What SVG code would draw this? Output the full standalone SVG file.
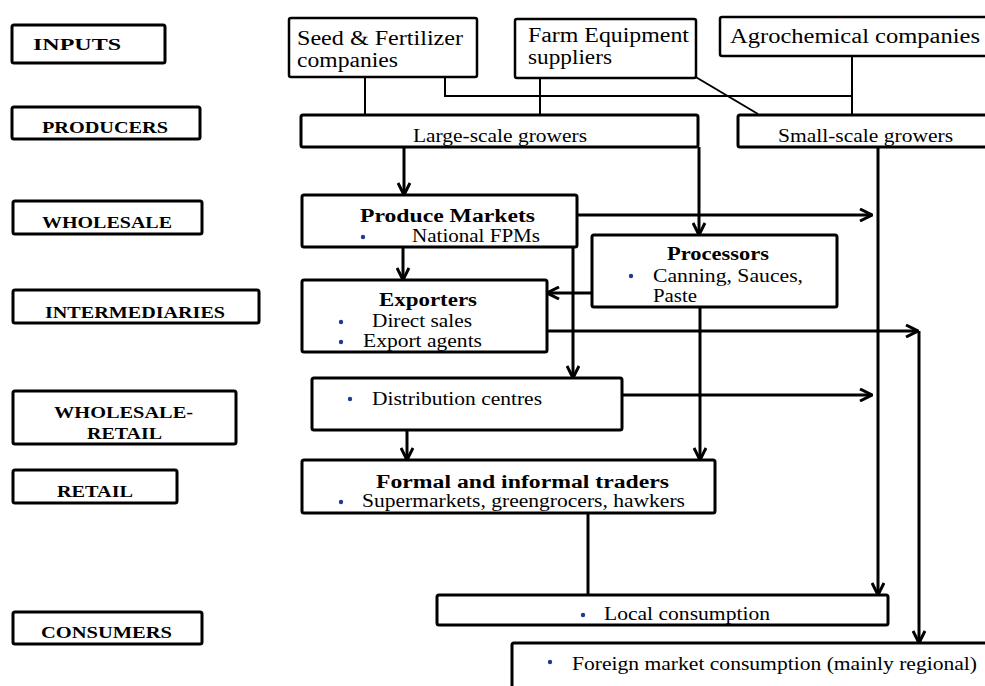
<svg xmlns="http://www.w3.org/2000/svg" width="985" height="686" viewBox="0 0 985 686">
<defs>
<style>
.box{fill:#fff;stroke:#000;stroke-width:3}
.lbl{font-family:"Liberation Serif","Times New Roman",serif;font-weight:bold;font-size:17px;fill:#000}
.t{font-family:"Liberation Serif","Times New Roman",serif;font-size:18px;fill:#000}
.tb{font-family:"Liberation Serif","Times New Roman",serif;font-weight:bold;font-size:18px;fill:#000}
.top{font-family:"Liberation Serif","Times New Roman",serif;font-size:20px;fill:#000}
.dot{fill:#1f3a93}
.thin{fill:none;stroke:#000;stroke-width:2}
.con{fill:none;stroke:#000;stroke-width:3}
.arr{fill:none;stroke:#000;stroke-width:3;marker-end:url(#ah)}
</style>
<marker id="ah" viewBox="0 0 14 14" refX="13" refY="7" markerWidth="14" markerHeight="14" markerUnits="userSpaceOnUse" orient="auto">
<path d="M1,1 L13,7 L1,13" fill="none" stroke="#000" stroke-width="3"/>
</marker>
</defs>
<rect width="985" height="686" fill="#fff"/>

<g id="connectors">
<path class="thin" d="M365,77 V115"/>
<path class="thin" d="M445,77 V96 H852"/>
<path class="thin" d="M540,78 V115"/>
<path class="thin" d="M852,56 V115"/>
<path class="thin" d="M694,76 L758,114"/>
<path class="arr" d="M404,147 V195"/>
<path class="arr" d="M699,147 V235"/>
<path class="arr" d="M403,247 V280"/>
<path class="arr" d="M577,215 H872"/>
<path class="arr" d="M573,247 V378"/>
<path class="arr" d="M592,293 H547"/>
<path class="arr" d="M547,331 H918"/>
<path class="arr" d="M919,331 V643"/>
<path class="arr" d="M622,395 H872"/>
<path class="arr" d="M407,430 V460"/>
<path class="arr" d="M700,307 V460"/>
<path class="arr" d="M878,147 V595"/>
<path class="con" d="M588,513 V595"/>
</g>

<g id="inputs"><rect class="box" x="12" y="25" width="153" height="38" rx="2"/><text class="lbl" x="33" y="50" font-size="20" textLength="88" lengthAdjust="spacingAndGlyphs">INPUTS</text></g>
<g id="producers"><rect class="box" x="12" y="107" width="188" height="32" rx="2"/><text class="lbl" x="42" y="133" textLength="126" lengthAdjust="spacingAndGlyphs">PRODUCERS</text></g>
<g id="wholesale"><rect class="box" x="13" y="201" width="189" height="33" rx="2"/><text class="lbl" x="42" y="228" textLength="130" lengthAdjust="spacingAndGlyphs">WHOLESALE</text></g>
<g id="intermediaries"><rect class="box" x="13" y="290" width="246" height="33" rx="2"/><text class="lbl" x="45" y="318" textLength="180" lengthAdjust="spacingAndGlyphs">INTERMEDIARIES</text></g>
<g id="wholesale-retail"><rect class="box" x="13" y="391" width="223" height="53" rx="2"/><text class="lbl" x="54" y="418" textLength="139" lengthAdjust="spacingAndGlyphs">WHOLESALE-</text><text class="lbl" x="87" y="439" textLength="75" lengthAdjust="spacingAndGlyphs">RETAIL</text></g>
<g id="retail"><rect class="box" x="13" y="470" width="164" height="33" rx="2"/><text class="lbl" x="57" y="497" textLength="76" lengthAdjust="spacingAndGlyphs">RETAIL</text></g>
<g id="consumers"><rect class="box" x="13" y="612" width="189" height="32" rx="2"/><text class="lbl" x="41" y="638" textLength="131" lengthAdjust="spacingAndGlyphs">CONSUMERS</text></g>

<g id="seed"><rect class="box" x="289" y="18" width="188" height="59" rx="2" style="stroke-width:2.5"/><text class="top" x="297" y="45" textLength="166" lengthAdjust="spacingAndGlyphs">Seed &amp; Fertilizer</text><text class="top" x="297" y="67" textLength="101" lengthAdjust="spacingAndGlyphs">companies</text></g>
<g id="farm"><rect class="box" x="515" y="19" width="181" height="59" rx="2" style="stroke-width:2.5"/><text class="top" x="528" y="42" font-size="18.5" textLength="161" lengthAdjust="spacingAndGlyphs">Farm Equipment</text><text class="top" x="528" y="64" font-size="18.5" textLength="84" lengthAdjust="spacingAndGlyphs">suppliers</text></g>
<g id="agro"><rect class="box" x="720" y="17" width="270" height="39" rx="2" style="stroke-width:2.5"/><text class="top" x="730" y="43" textLength="250" lengthAdjust="spacingAndGlyphs">Agrochemical companies</text></g>

<g id="large"><rect class="box" x="301" y="115" width="397" height="32" rx="2"/><text class="t" x="413" y="142" font-size="16" textLength="174" lengthAdjust="spacingAndGlyphs">Large-scale growers</text></g>
<g id="small"><rect class="box" x="738" y="115" width="252" height="32" rx="2"/><text class="t" x="778" y="142" font-size="16" textLength="175" lengthAdjust="spacingAndGlyphs">Small-scale growers</text></g>

<g id="produce"><rect class="box" x="302" y="195" width="275" height="52" rx="2"/><text class="tb" x="360" y="222" textLength="175" lengthAdjust="spacingAndGlyphs">Produce Markets</text><circle class="dot" cx="363" cy="237" r="2.2"/><text class="t" x="412" y="242" textLength="128" lengthAdjust="spacingAndGlyphs">National FPMs</text></g>
<g id="processors"><rect class="box" x="592" y="235" width="245" height="72" rx="2"/><text class="tb" x="667" y="260" textLength="102" lengthAdjust="spacingAndGlyphs">Processors</text><circle class="dot" cx="631" cy="276" r="2.2"/><text class="t" x="653" y="282" textLength="150" lengthAdjust="spacingAndGlyphs">Canning, Sauces,</text><text class="t" x="653" y="302" textLength="44" lengthAdjust="spacingAndGlyphs">Paste</text></g>
<g id="exporters"><rect class="box" x="302" y="280" width="245" height="72" rx="2"/><text class="tb" x="379" y="306" textLength="98" lengthAdjust="spacingAndGlyphs">Exporters</text><circle class="dot" cx="341" cy="322" r="2.2"/><text class="t" x="372" y="327" textLength="100" lengthAdjust="spacingAndGlyphs">Direct sales</text><circle class="dot" cx="341" cy="342" r="2.2"/><text class="t" x="363" y="347" textLength="119" lengthAdjust="spacingAndGlyphs">Export agents</text></g>
<g id="distribution"><rect class="box" x="312" y="378" width="310" height="52" rx="2"/><circle class="dot" cx="350" cy="399" r="2.2"/><text class="t" x="372" y="405" textLength="170" lengthAdjust="spacingAndGlyphs">Distribution centres</text></g>
<g id="traders"><rect class="box" x="302" y="460" width="413" height="53" rx="2"/><text class="tb" x="376" y="488" textLength="293" lengthAdjust="spacingAndGlyphs">Formal and informal traders</text><circle class="dot" cx="341" cy="502" r="2.2"/><text class="t" x="362" y="507" textLength="323" lengthAdjust="spacingAndGlyphs">Supermarkets, greengrocers, hawkers</text></g>
<g id="local"><rect class="box" x="437" y="595" width="451" height="30" rx="2"/><circle class="dot" cx="583" cy="615" r="2.2"/><text class="t" x="604" y="620" textLength="166" lengthAdjust="spacingAndGlyphs">Local consumption</text></g>
<g id="foreign"><rect class="box" x="512" y="643" width="480" height="50" rx="2"/><circle class="dot" cx="550" cy="662" r="2.2"/><text class="t" x="572" y="670" textLength="405" lengthAdjust="spacingAndGlyphs">Foreign market consumption (mainly regional)</text></g>
</svg>
